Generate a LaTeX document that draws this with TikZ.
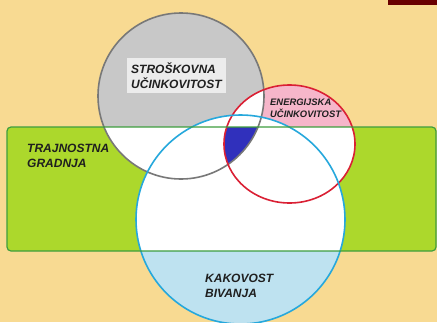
\documentclass[tikz,border=0pt]{standalone}
\usepackage{fontspec}
\setmainfont{Liberation Sans}
\usetikzlibrary{positioning}

\definecolor{bgtan}{RGB}{248,218,146}
\definecolor{cornerred}{RGB}{105,0,0}
\definecolor{bandgreen}{RGB}{172,216,44}
\definecolor{bandline}{RGB}{62,158,62}
\definecolor{costgray}{RGB}{200,200,200}
\definecolor{costline}{RGB}{120,120,120}
\definecolor{energypink}{RGB}{246,182,202}
\definecolor{energyline}{RGB}{218,32,52}
\definecolor{lifeline}{RGB}{38,168,220}
\definecolor{lifeblue}{RGB}{190,226,240}
\definecolor{deepblue}{RGB}{48,48,188}

\begin{document}
\begin{tikzpicture}[
  x=1pt, y=-1pt,
  tag/.style={font=\bfseries\itshape\fontsize{12}{14.5}\selectfont, text=black!88,
             align=left, inner sep=1pt, anchor=base west},
  smalltag/.style={tag, font=\bfseries\itshape\fontsize{9.4}{12}\selectfont},
  ring/.style={line width=1.6pt}
]
\useasboundingbox (0,0) rectangle (437,322);
\fill[bgtan] (0,0) rectangle (437,322);
\fill[cornerred] (388,0) rectangle (437,5);

\coordinate (cost) at (181,96);
\coordinate (energy) at (289.5,144);
\coordinate (life) at (240.5,219.5);

% green band
\fill[bandgreen, rounded corners=4pt] (7,127) rectangle (436,251);

% circles above the band
\begin{scope}
  \clip (0,0) rectangle (437,127);
  \fill[costgray] (cost) circle (83);
  \fill[energypink] (energy) ellipse (65.5 and 59);
  \begin{scope}
    \clip (cost) circle (83);
    \fill[white] (energy) ellipse (65.5 and 59);
  \end{scope}
\end{scope}

% circles inside the band
\begin{scope}
  \clip (0,127) rectangle (437,251);
  \fill[white] (cost) circle (83);
  \fill[white] (energy) ellipse (65.5 and 59);
\end{scope}
\fill[white] (life) circle (104.5);
\begin{scope}
  \clip (0,251) rectangle (437,330);
  \fill[lifeblue] (life) circle (104.5);
\end{scope}

% overlap of all three in the band
\begin{scope}
  \clip (0,127) rectangle (437,251);
  \clip (cost) circle (83);
  \clip (energy) ellipse (65.5 and 59);
  \clip (life) circle (104.5);
  \fill[deepblue] (0,0) rectangle (437,322);
\end{scope}

% outlines
\draw[ring, costline] (cost) circle (83);
\draw[ring, energyline] (energy) ellipse (65.5 and 59);
\draw[ring, lifeline] (life) circle (104.5);
\draw[line width=1.2pt, bandline, rounded corners=4pt] (7,127) rectangle (436,251);

% labels
\node[tag, fill=costgray!35!white, inner xsep=4pt, inner ysep=5pt] (costlabel) at (127,88) {STROŠKOVNA\\UČINKOVITOST};
\node[smalltag] (energylabel) at (269,117) {ENERGIJSKA\\UČINKOVITOST};
\node[tag] (bandlabel) at (26,167) {TRAJNOSTNA\\GRADNJA};
\node[tag] (lifelabel) at (204,297) {KAKOVOST\\BIVANJA};
\end{tikzpicture}
\end{document}
